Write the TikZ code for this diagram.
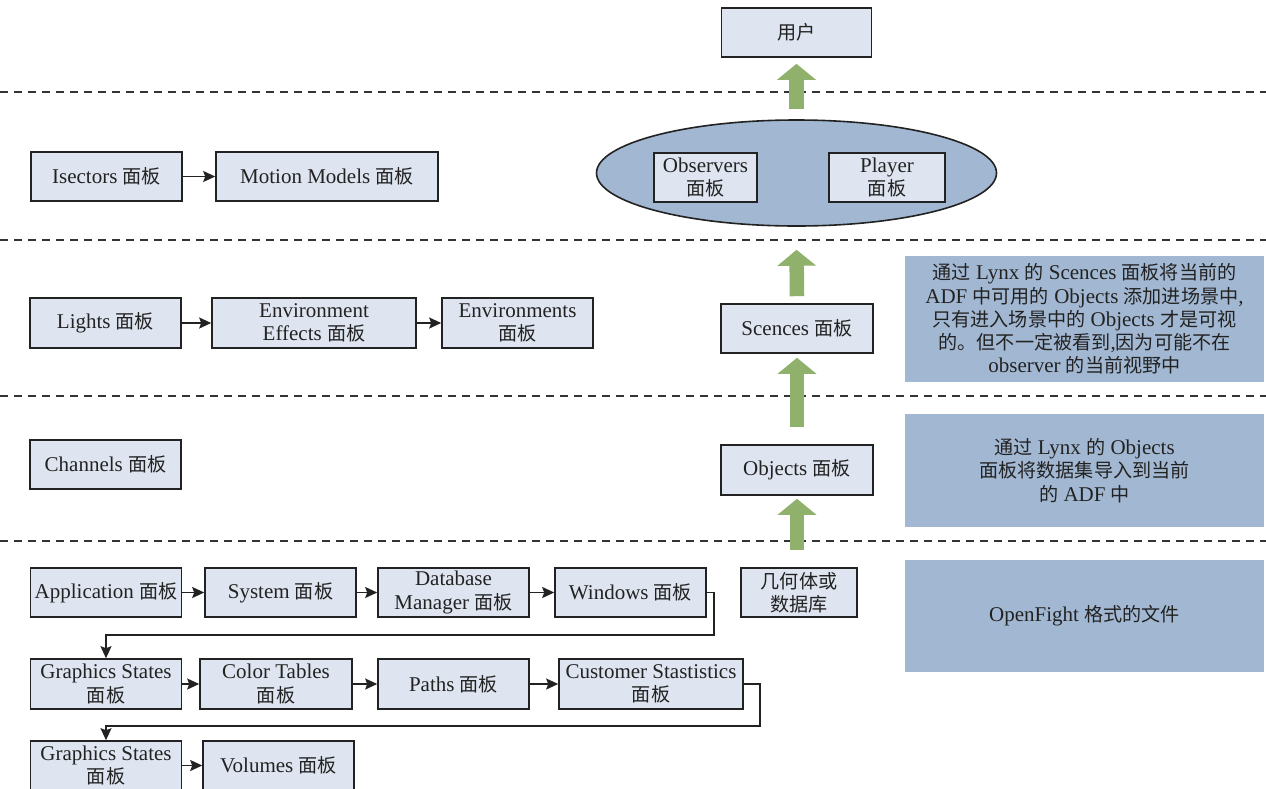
\documentclass[tikz,border=0pt]{standalone}
\usepackage{fontspec}
\setmainfont{Liberation Serif}
\newfontfamily\cjkfont{Noto Sans CJK SC}[Scale=0.91]
\newcommand\zh[1]{{\cjkfont #1}}
\usetikzlibrary{arrows.meta,shapes.geometric}
\definecolor{boxfill}{RGB}{222,229,240}
\definecolor{bluepanel}{RGB}{162,184,210}
\definecolor{greenarr}{RGB}{143,177,107}
\definecolor{inkc}{RGB}{34,34,34}
\begin{document}
\begin{tikzpicture}[x=1pt,y=-1pt,
  font=\fontsize{21}{23.3}\selectfont,
  panel/.style={draw=inkc, line width=1.6pt, fill=boxfill, inner sep=0pt,
    minimum height=49pt, align=center, text=inkc},
  note/.style={fill=bluepanel, inner sep=0pt, align=center, text=inkc,
    minimum width=359pt},
  conn/.style={draw=inkc, line width=1.6pt, -{Stealth[length=12pt,width=11pt,inset=2pt]}},
  garrow/.style={draw=greenarr, line width=14.5pt, -{Triangle[length=16pt,width=38pt]}},
  sep/.style={draw=black!80, line width=1.6pt, dash pattern=on 8pt off 6pt}
]
\clip (0,0) rectangle (1266,788);
\fill[white] (0,0) rectangle (1266,788);

% separators
\draw[sep] (0,92) -- (1266,92);
\draw[sep] (0,240) -- (1266,240);
\draw[sep] (0,396) -- (1266,396);
\draw[sep] (0,541) -- (1266,541);

% right column
\node[panel, minimum width=150pt] (user) at (796.5,32.5) {\zh{用户}};
\node[ellipse, draw=inkc, line width=1.6pt, fill=bluepanel, inner sep=0pt,
  minimum width=400pt, minimum height=106pt] (ell) at (796.5,173) {};
\node[panel, minimum width=103pt] (obs) at (705.5,177.5) {Observers\\\zh{面板}};
\node[panel, minimum width=116pt] (player) at (887,177.5) {Player\\\zh{面板}};
\node[panel, minimum width=152pt] (sc) at (797,328.5) {Scences \zh{面板}};
\node[panel, minimum width=152pt, minimum height=50pt] (obj) at (797,470) {Objects \zh{面板}};
\node[panel, minimum width=116pt] (geo) at (799,592.5) {\zh{几何体或}\\\zh{数据库}};
\coordinate (a4s) at (797,550);

\draw[garrow] ([yshift=10pt]ell.north) -- ([yshift=-6pt]user.south);
\draw[garrow] ([yshift=7pt]sc.north) -- ([yshift=-23pt]ell.south);
\draw[garrow] ([yshift=17pt]obj.north) -- ([yshift=-4pt]sc.south);
\draw[garrow] (a4s) -- ([yshift=-3pt]obj.south);

% notes
\node[note, minimum height=126pt] (n1) at (1084.5,319) {\zh{通过} Lynx \zh{的} Scences \zh{面板将当前的}\\ADF \zh{中可用的} Objects \zh{添加进场景中},\\\zh{只有进入场景中的} Objects \zh{才是可视}\\\zh{的。但不一定被看到},\zh{因为可能不在}\\observer \zh{的当前视野中}};
\node[note, minimum height=113pt] (n2) at (1084.5,470.5) {\zh{通过} Lynx \zh{的} Objects\\\zh{面板将数据集导入到当前}\\\zh{的} ADF \zh{中}};
\node[note, minimum height=112pt] (n3) at (1084.5,616) {OpenFight \zh{格式的文件}};

% left side
\node[panel, minimum width=151pt] (isec) at (106.5,176.5) {Isectors \zh{面板}};
\node[panel, minimum width=222pt] (motion) at (327,176.5) {Motion Models \zh{面板}};
\draw[conn] (isec) -- (motion);

\node[panel, minimum width=151pt, minimum height=50pt] (lights) at (105.5,323) {Lights \zh{面板}};
\node[panel, minimum width=204pt, minimum height=50pt] (envfx) at (314,323) {Environment\\Effects \zh{面板}};
\node[panel, minimum width=151pt, minimum height=50pt] (envs) at (517.5,323) {Environments\\\zh{面板}};
\draw[conn] (lights) -- (envfx);
\draw[conn] (envfx) -- (envs);

\node[panel, minimum width=151pt] (chan) at (105.5,464.5) {Channels \zh{面板}};

\node[panel, minimum width=151pt] (app) at (106,592.5) {Application \zh{面板}};
\node[panel, minimum width=151pt] (sys) at (280.5,592.5) {System \zh{面板}};
\node[panel, minimum width=151pt] (db) at (453.5,592.5) {Database\\Manager \zh{面板}};
\node[panel, minimum width=151pt] (win) at (630.5,592.5) {Windows \zh{面板}};
\draw[conn] (app) -- (sys);
\draw[conn] (sys) -- (db);
\draw[conn] (db) -- (win);

\node[panel, minimum width=151pt, minimum height=50pt] (gs1) at (106,684) {Graphics States\\\zh{面板}};
\node[panel, minimum width=152pt, minimum height=50pt] (ct) at (276,684) {Color Tables\\\zh{面板}};
\node[panel, minimum width=151pt, minimum height=50pt] (paths) at (453.5,684) {Paths \zh{面板}};
\node[panel, minimum width=184pt, minimum height=50pt] (cust) at (651,684) {Customer Stastistics\\\zh{面板}};
\draw[conn] (gs1) -- (ct);
\draw[conn] (ct) -- (paths);
\draw[conn] (paths) -- (cust);

\node[panel, minimum width=151pt] (gs2) at (106,765.5) {Graphics States\\\zh{面板}};
\node[panel, minimum width=151pt] (vol) at (278.5,765.5) {Volumes \zh{面板}};
\draw[conn] (gs2) -- (vol);

\coordinate (c1) at (714,635);
\coordinate (c2) at (760,726);
\draw[conn] (win.east) -| (c1) -| (gs1.north);
\draw[conn] (cust.east) -| (c2) -| (gs2.north);
\end{tikzpicture}
\end{document}
